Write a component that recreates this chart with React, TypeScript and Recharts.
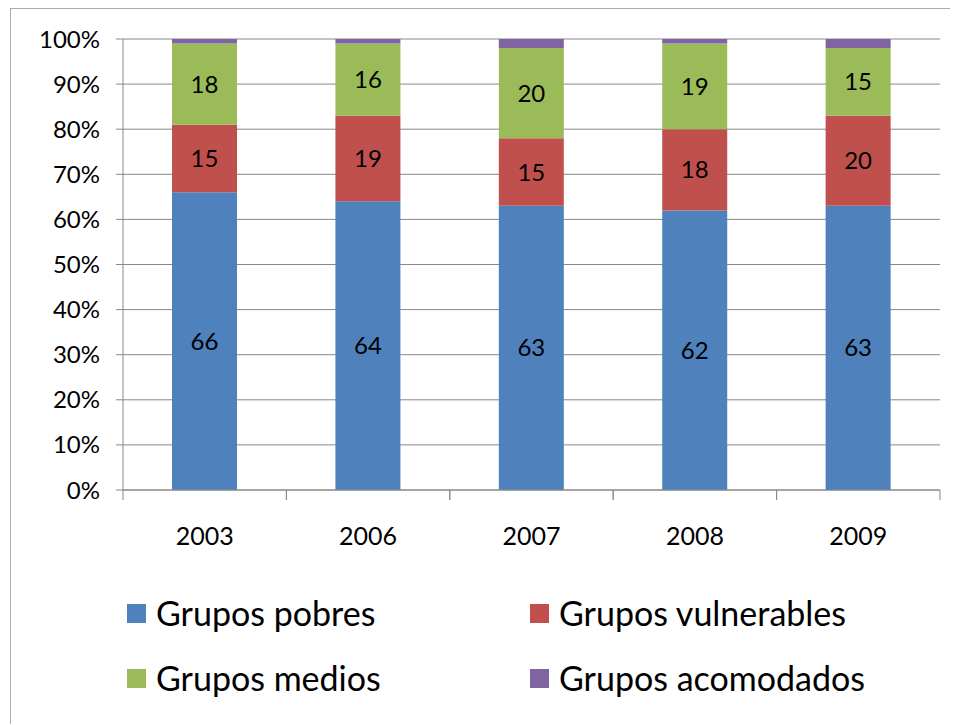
import React from 'react';
import { BarChart, Bar, XAxis, YAxis, CartesianGrid, LabelList } from 'recharts';

const years = ['2003', '2006', '2007', '2008', '2009'];
const pobres = [66, 64, 63, 62, 63];
const vulnerables = [15, 19, 15, 18, 20];
const medios = [18, 16, 20, 19, 15];
const acomodados = [1, 1, 2, 1, 2];
const yTicks = [0, 10, 20, 30, 40, 50, 60, 70, 80, 90, 100];

const series = [
  { key: 'pobres', name: 'Grupos pobres', color: '#4F81BD', values: pobres, label: true },
  { key: 'vulnerables', name: 'Grupos vulnerables', color: '#C0504D', values: vulnerables, label: true },
  { key: 'medios', name: 'Grupos medios', color: '#9BBB59', values: medios, label: true },
  { key: 'acomodados', name: 'Grupos acomodados', color: '#8064A2', values: acomodados, label: false },
];

const data = years.map((year, i) => {
  const row: Record<string, string | number> = { year };
  series.forEach((s) => {
    row[s.key] = s.values[i];
  });
  return row;
});

const FONT = 'Lato, "Open Sans", sans-serif';

const XTick = (props: any) => {
  const { x, y, payload } = props;
  const off = payload && typeof payload.offset === 'number' ? payload.offset : 0;
  return (
    <g>
      <line x1={x - off} x2={x - off} y1={y} y2={y + 10} stroke="#888" />
      <line x1={x + off} x2={x + off} y1={y} y2={y + 10} stroke="#888" />
      <text x={x} y={y + 45} textAnchor="middle" dominantBaseline="central" fontSize={25} fill="#000" fontFamily={FONT}>
        {payload.value}
      </text>
    </g>
  );
};

const legendPos = [
  { left: 116, top: 586 },
  { left: 519, top: 586 },
  { left: 116, top: 651 },
  { left: 519, top: 651 },
];

export default function App() {
  return (
    <div
      style={{
        position: 'relative',
        width: 947,
        height: 715,
        marginLeft: 2,
        borderTop: '1px solid #aaa',
        borderLeft: '1px solid #aaa',
        background: '#fff',
        fontFamily: FONT,
      }}
    >
      <BarChart
        width={947}
        height={715}
        data={data}
        margin={{ top: 30, right: 18, left: 0, bottom: 174 }}
        barCategoryGap="30%"
        style={{ fontFamily: FONT }}
      >
        <CartesianGrid vertical={false} stroke="#888" strokeWidth={1} />
        <XAxis
          dataKey="year"
          height={60}
          tickSize={0}
          tickMargin={0}
          tickLine={false}
          axisLine={{ stroke: '#888' }}
          tick={<XTick />}
          interval={0}
        />
        <YAxis
          width={112}
          domain={[0, 100]}
          ticks={yTicks}
          interval={0}
          tickFormatter={(v: number) => `${v}%`}
          tickSize={7}
          tickMargin={16}
          tickLine={{ stroke: '#888' }}
          axisLine={{ stroke: '#888' }}
          tick={{ fontSize: 24, fill: '#000', fontFamily: FONT }}
          allowDataOverflow
        />
        {series.map((s) => (
          <Bar key={s.key} dataKey={s.key} name={s.name} stackId="a" fill={s.color} isAnimationActive={false}>
            {s.label && (
              <LabelList
                dataKey={s.key}
                position="center"
                fill="#000"
                fontSize={24}
                fontFamily={FONT}
              />
            )}
          </Bar>
        ))}
      </BarChart>
      {series.map((s, i) => (
        <div
          key={s.key}
          style={{
            position: 'absolute',
            left: legendPos[i].left,
            top: legendPos[i].top,
            display: 'flex',
            alignItems: 'center',
            height: 36,
          }}
        >
          <div style={{ width: 19, height: 19, background: s.color, marginRight: 10 }} />
          <span style={{ fontSize: 34, color: '#000', lineHeight: '36px', whiteSpace: 'nowrap' }}>{s.name}</span>
        </div>
      ))}
    </div>
  );
}
